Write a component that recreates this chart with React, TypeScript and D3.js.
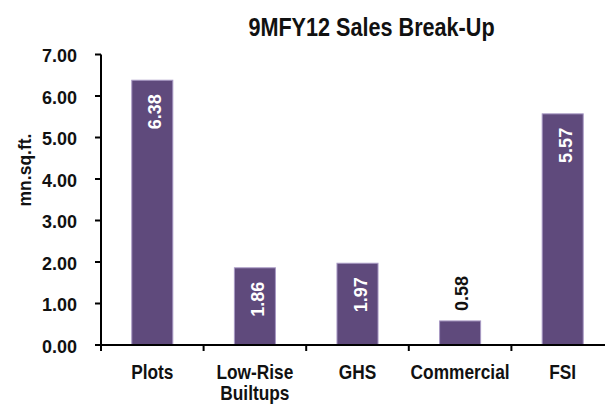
import React from "react";
import * as d3 from "d3";

const categories = ["Plots", "Low-Rise\nBuiltups", "GHS", "Commercial", "FSI"];
const values = [6.38, 1.86, 1.97, 0.58, 5.57];
const labelInside = [true, true, true, false, true];
const yTicks = [0, 1, 2, 3, 4, 5, 6, 7];
const title = "9MFY12 Sales Break-Up";
const yTitle = "mn.sq.ft.";

const W = 605;
const H = 406;
const BAR = "#5F4A7C";
const SANS = "'Liberation Sans', Arial, sans-serif";
const COND = 0.865;

export default function App() {
  const x = d3.scaleBand<string>().domain(categories).range([101, 614]).padding(0);
  const y = d3.scaleLinear().domain([0, 7]).range([345, 54.5]);
  const barW = x.bandwidth() * 0.4;

  return (
    <svg
      width={W}
      height={H}
      style={{ position: "absolute", left: 0, top: 0, background: "#fff" }}
    >
      <text
        transform={`translate(371.5,36) scale(${COND},1)`}
        textAnchor="middle"
        fontFamily={SANS}
        fontWeight="bold"
        fontSize={25}
        fill="#111"
      >
        {title}
      </text>

      <text
        transform={`translate(31,170) rotate(-90)`}
        textAnchor="middle"
        fontFamily={SANS}
        fontWeight="bold"
        fontSize={17.5}
        fill="#111"
      >
        {yTitle}
      </text>

      {yTicks.map((t) => (
        <g key={t}>
          <line x1={95} x2={101} y1={y(t)} y2={y(t)} stroke="#000" strokeWidth={2} />
          <text
            x={77}
            y={y(t) + 7.5}
            textAnchor="end"
            fontFamily={SANS}
            fontWeight="bold"
            fontSize={18}
            fill="#111"
          >
            {t.toFixed(2)}
          </text>
        </g>
      ))}

      {categories.map((c, i) => {
        const cx = (x(c) as number) + x.bandwidth() / 2;
        const v = values[i];
        const top = y(v);
        const lines = c.split("\n");
        return (
          <g key={c}>
            <rect
              x={cx - barW / 2}
              y={top}
              width={barW}
              height={y(0) - top}
              fill={BAR}
              stroke="#A899C4"
              strokeWidth={1}
            />
            {labelInside[i] ? (
              <text
                transform={`translate(${cx},${top}) rotate(-90)`}
                x={-14}
                y={9}
                textAnchor="end"
                fontFamily={SANS}
                fontWeight="bold"
                fontSize={18}
                fill="#fff"
              >
                {v.toFixed(2)}
              </text>
            ) : (
              <text
                transform={`translate(${cx},${top}) rotate(-90)`}
                x={10}
                y={8}
                textAnchor="start"
                fontFamily={SANS}
                fontWeight="bold"
                fontSize={18}
                fill="#111"
              >
                {v.toFixed(2)}
              </text>
            )}
            {lines.map((ln, j) => (
              <text
                key={j}
                transform={`translate(${cx},${379 + j * 21}) scale(${COND},1)`}
                textAnchor="middle"
                fontFamily={SANS}
                fontWeight="bold"
                fontSize={20}
                fill="#111"
              >
                {ln}
              </text>
            ))}
          </g>
        );
      })}

      {d3.range(categories.length + 1).map((i) => {
        const xx = 101 + i * x.step();
        return <line key={i} x1={xx} x2={xx} y1={345} y2={351} stroke="#000" strokeWidth={2} />;
      })}
      <line x1={101} x2={614} y1={345} y2={345} stroke="#000" strokeWidth={2} />
      <line x1={101} x2={101} y1={54.5} y2={345} stroke="#000" strokeWidth={2} />
    </svg>
  );
}
